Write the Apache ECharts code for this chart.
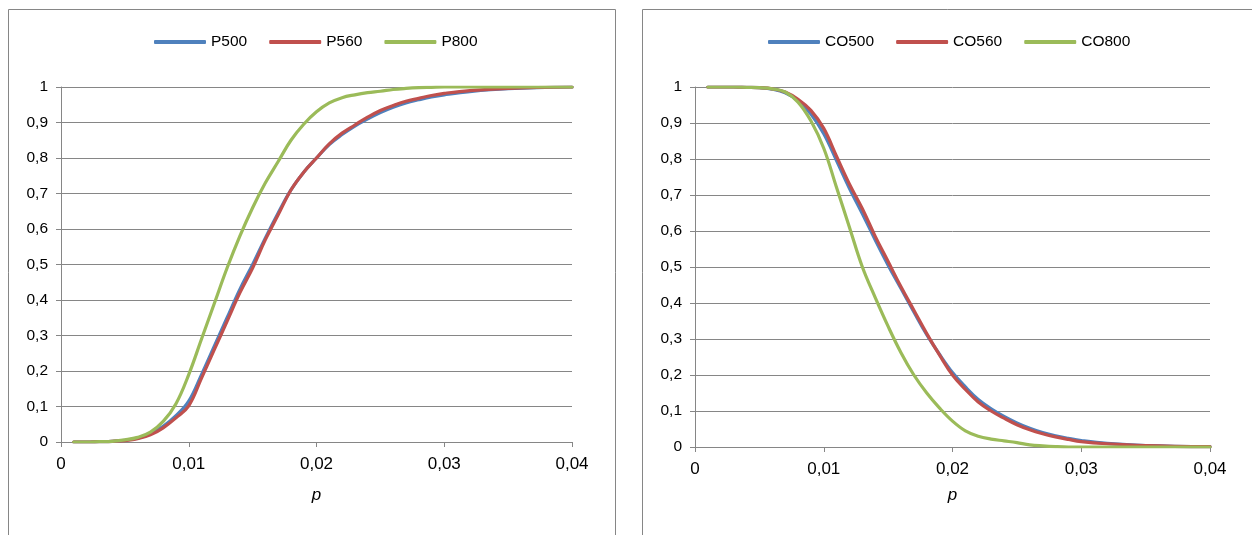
<!DOCTYPE html>
<html>
<head>
<meta charset="utf-8">
<script src="https://cdn.jsdelivr.net/npm/echarts@6/dist/echarts.min.js"></script>
<style>
html,body{margin:0;padding:0;background:#fff;}
#c{width:1252px;height:535px;}
</style>
</head>
<body>
<div id="c"></div>
<script>
// x values (p)
const pValues = [0.001,0.002,0.003,0.004,0.005,0.006,0.007,0.008,0.009,0.010,0.011,0.012,0.013,0.014,0.015,0.016,0.017,0.018,0.019,0.020,0.021,0.022,0.023,0.024,0.025,0.026,0.027,0.028,0.029,0.030,0.032,0.035,0.040];

// Left panel
const P500 = [0,0,0.001,0.002,0.005,0.011,0.023,0.044,0.074,0.115,0.19,0.27,0.35,0.43,0.50,0.575,0.645,0.71,0.76,0.80,0.838,0.866,0.89,0.91,0.928,0.943,0.955,0.964,0.972,0.978,0.987,0.995,1];
const P560 = [0,0,0.001,0.002,0.004,0.009,0.02,0.04,0.068,0.102,0.18,0.26,0.34,0.42,0.49,0.57,0.64,0.71,0.76,0.80,0.84,0.87,0.893,0.915,0.934,0.948,0.96,0.968,0.976,0.982,0.99,0.996,1];
const P800 = [0,0,0.001,0.002,0.006,0.013,0.028,0.058,0.108,0.19,0.29,0.39,0.49,0.58,0.66,0.73,0.79,0.85,0.895,0.93,0.955,0.97,0.978,0.984,0.988,0.993,0.996,0.998,0.999,1,1,1,1];

// Right panel
const CO500 = [1,1,1,0.999,0.998,0.994,0.984,0.962,0.925,0.87,0.795,0.718,0.648,0.575,0.505,0.44,0.375,0.312,0.257,0.207,0.167,0.132,0.106,0.085,0.067,0.052,0.04,0.031,0.024,0.018,0.01,0.004,0.001];
const CO560 = [1,1,1,0.999,0.998,0.995,0.986,0.966,0.935,0.885,0.807,0.73,0.662,0.585,0.515,0.445,0.38,0.315,0.255,0.20,0.16,0.125,0.10,0.08,0.062,0.048,0.037,0.028,0.021,0.015,0.009,0.004,0.001];
const CO800 = [1,1,1,0.999,0.998,0.995,0.986,0.958,0.906,0.83,0.72,0.61,0.50,0.415,0.335,0.262,0.20,0.15,0.108,0.072,0.045,0.03,0.022,0.017,0.012,0.006,0.003,0.001,0,0,0,0,0];

const yTicks = {min:0, max:1, interval:0.1};
const xTicks = {min:0, max:0.04, interval:0.01};

const GRAY = '#868686';
const colors = ['#4F81BD','#C0504D','#9BBB59'];
const fmt = v => String(Math.round(v*1000)/1000).replace('.', ',');

function pairs(ys){ return pValues.map((x,i)=>[x, ys[i]]); }

function xAxis(gi, gap){
  return {
    type:'value', gridIndex:gi, min:xTicks.min, max:xTicks.max, interval:xTicks.interval,
    name:'p', nameLocation:'middle', nameGap:gap,
    nameTextStyle:{fontFamily:'Liberation Sans', fontStyle:'italic', fontSize:17, color:'#000'},
    axisLine:{show:true, lineStyle:{color:GRAY, width:1}},
    axisTick:{show:true, inside:false, length:5, lineStyle:{color:GRAY}},
    axisLabel:{formatter:fmt, fontFamily:'Liberation Sans', fontSize:17, color:'#000', margin:14},
    splitLine:{show:false}
  };
}
function yAxis(gi){
  return {
    type:'value', gridIndex:gi, min:yTicks.min, max:yTicks.max, interval:yTicks.interval,
    axisLine:{show:true, lineStyle:{color:GRAY, width:1}},
    axisTick:{show:true, inside:false, length:5, lineStyle:{color:GRAY}},
    axisLabel:{formatter:fmt, fontFamily:'Liberation Sans', fontSize:15.5, color:'#000', margin:13},
    splitLine:{show:true, lineStyle:{color:GRAY, width:1}}
  };
}
function line(name, ys, gi, ci){
  return {
    name, type:'line', xAxisIndex:gi, yAxisIndex:gi, data:pairs(ys),
    smooth:0.4, showSymbol:false, symbol:'none',
    lineStyle:{color:colors[ci], width:3.2, cap:'round', join:'round'},
    itemStyle:{color:colors[ci]}, z: 3
  };
}
const legendBase = {
  top:34, itemWidth:52, itemHeight:4, itemGap:22, itemTextGap:6, icon:'roundRect', padding:0,
  textStyle:{fontFamily:'Liberation Sans', fontSize:15.5, color:'#000'}
};

const chart = echarts.init(document.getElementById('c'), null, {renderer:'canvas'});
chart.setOption({
  backgroundColor:'#fff',
  animation:false,
  graphic:[
    {type:'rect', shape:{x:8.5, y:9.5, width:607, height:600}, style:{fill:'none', stroke:GRAY, lineWidth:1}, silent:true},
    {type:'rect', shape:{x:642.5, y:9.5, width:700, height:600}, style:{fill:'none', stroke:GRAY, lineWidth:1}, silent:true}
  ],
  legend:[
    Object.assign({}, legendBase, {data:['P500','P560','P800'], left:154}),
    Object.assign({}, legendBase, {data:['CO500','CO560','CO800'], left:768})
  ],
  grid:[
    {left:61, top:87, width:511, height:355},
    {left:695, top:87, width:515, height:360}
  ],
  xAxis:[xAxis(0, 45), xAxis(1, 40)],
  yAxis:[yAxis(0), yAxis(1)],
  series:[
    line('P500', P500, 0, 0),
    line('P560', P560, 0, 1),
    line('P800', P800, 0, 2),
    line('CO500', CO500, 1, 0),
    line('CO560', CO560, 1, 1),
    line('CO800', CO800, 1, 2)
  ]
});
</script>
</body>
</html>
